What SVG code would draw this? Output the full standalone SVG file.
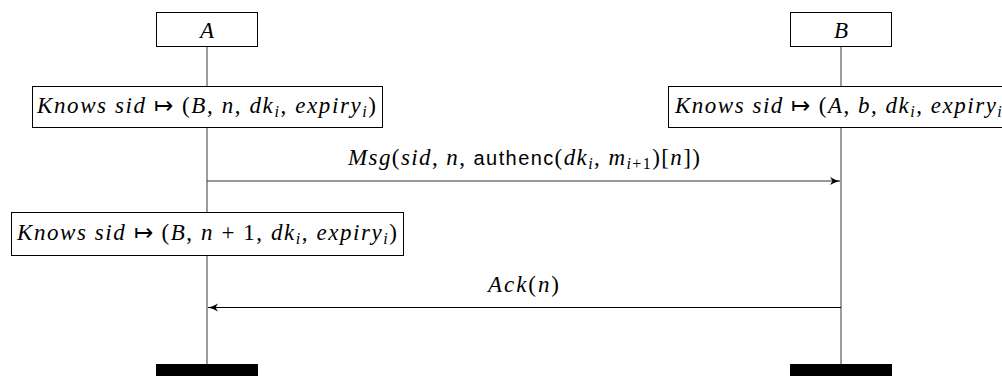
<svg xmlns="http://www.w3.org/2000/svg" width="1002" height="376" viewBox="0 0 1002 376">
<style>
.box{fill:#fff;stroke:#000;stroke-width:1}
.life{stroke:#666;stroke-width:1.3;fill:none}
.msg{stroke:#333;stroke-width:1.2;fill:none}
.t{font-family:"Liberation Serif","Times New Roman",serif;font-size:23px;fill:#000}
.i{font-style:italic}
.s{font-family:"Liberation Sans","DejaVu Sans",sans-serif;font-size:20px}
.sub{font-size:16px;font-style:italic}
.bar{fill:#000}
</style>
<defs>
<marker id="ah" markerWidth="12" markerHeight="10" refX="10" refY="5" orient="auto" markerUnits="userSpaceOnUse">
<path d="M0,1 Q5,4.2 10,5 Q5,5.8 0,9 L2.5,5 Z" fill="#000"/>
</marker>
</defs>
<g id="lifelines">
<line class="life" x1="207" y1="46" x2="207" y2="364"/>
<line class="life" x1="841" y1="46" x2="841" y2="364"/>
</g>
<g id="A">
<rect class="box" x="156.5" y="12.5" width="101" height="34"/>
<text class="t i" x="207" y="38" text-anchor="middle">A</text>
</g>
<g id="B">
<rect class="box" x="790.5" y="12.5" width="101" height="34"/>
<text class="t i" x="841" y="38" text-anchor="middle">B</text>
</g>
<g id="A_state1">
<rect class="box" x="32.5" y="86.5" width="350" height="41"/>
<text class="t" x="37" y="113" textLength="339" lengthAdjust="spacing"><tspan class="i">Knows</tspan> <tspan class="i">sid</tspan> ↦ (<tspan class="i">B</tspan>, <tspan class="i">n</tspan>, <tspan class="i">dk</tspan><tspan class="sub" dy="4">i</tspan><tspan dy="-4">, </tspan><tspan class="i">expiry</tspan><tspan class="sub" dy="4">i</tspan><tspan dy="-4">)</tspan></text>
</g>
<g id="B_state1">
<rect class="box" x="668.5" y="86.5" width="350" height="41"/>
<text class="t" x="675" y="113" textLength="336" lengthAdjust="spacing"><tspan class="i">Knows</tspan> <tspan class="i">sid</tspan> ↦ (<tspan class="i">A</tspan>, <tspan class="i">b</tspan>, <tspan class="i">dk</tspan><tspan class="sub" dy="4">i</tspan><tspan dy="-4">, </tspan><tspan class="i">expiry</tspan><tspan class="sub" dy="4">i</tspan><tspan dy="-4">)</tspan></text>
</g>
<g id="A_state2">
<rect class="box" x="11.5" y="212.5" width="392" height="43"/>
<text class="t" x="17" y="240" textLength="380" lengthAdjust="spacing"><tspan class="i">Knows</tspan> <tspan class="i">sid</tspan> ↦ (<tspan class="i">B</tspan>, <tspan class="i">n</tspan> + 1, <tspan class="i">dk</tspan><tspan class="sub" dy="4">i</tspan><tspan dy="-4">, </tspan><tspan class="i">expiry</tspan><tspan class="sub" dy="4">i</tspan><tspan dy="-4">)</tspan></text>
</g>
<g id="end_A"><rect class="bar" x="156" y="364" width="102" height="12"/></g>
<g id="end_B"><rect class="bar" x="790" y="364" width="102" height="12"/></g>
<g id="connectors">
<line class="msg" x1="207" y1="181" x2="840" y2="181" marker-end="url(#ah)"/>
<line class="msg" x1="841" y1="307.5" x2="208" y2="307.5" marker-end="url(#ah)" style="stroke:#000"/>
</g>
<g id="labels">
<text class="t" x="348" y="165" textLength="352" lengthAdjust="spacing"><tspan class="i">Msg</tspan>(<tspan class="i">sid</tspan>, <tspan class="i">n</tspan>, <tspan class="s">authenc</tspan>(<tspan class="i">dk</tspan><tspan class="sub" dy="4">i</tspan><tspan dy="-4">, </tspan><tspan class="i">m</tspan><tspan class="sub" dy="4">i</tspan><tspan style="font-size:16px">+1</tspan><tspan dy="-4">)[</tspan><tspan class="i">n</tspan>])</text>
<text class="t" x="488" y="292" textLength="71" lengthAdjust="spacing"><tspan class="i">Ack</tspan>(<tspan class="i">n</tspan>)</text>
</g>
</svg>
